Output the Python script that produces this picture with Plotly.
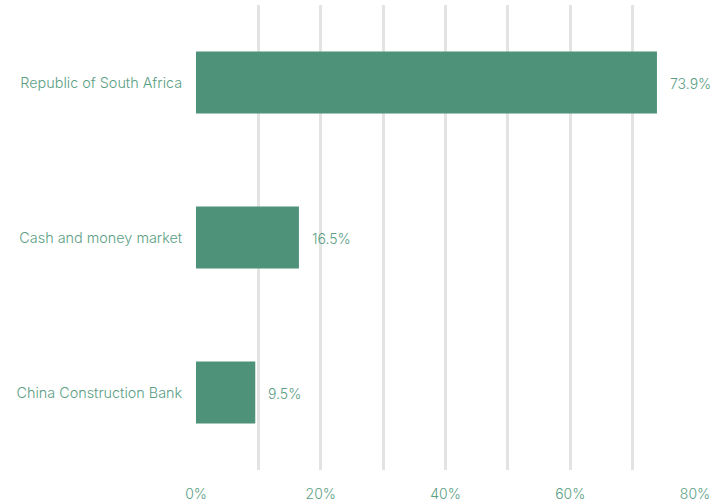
import plotly.graph_objects as go

categories = ["Republic of South Africa", "Cash and money market", "China Construction Bank"]
values = [73.9, 16.5, 9.5]
labels = ["73.9%", "16.5%", "9.5%"]
tick_vals = [0, 10, 20, 30, 40, 50, 60, 70, 80]
tick_text = ["0%", "", "20%", "", "40%", "", "60%", "", "80%"]

GREEN = "#4d9279"
TEXT = "#5a9e84"
FONT = "Inter, Lato, sans-serif"

fig = go.Figure()
fig.add_trace(go.Bar(
    x=values, y=categories, orientation="h",
    marker=dict(color=GREEN, line=dict(width=0)),
    width=0.4, hoverinfo="skip",
))
for c, v, t in zip(categories, values, labels):
    fig.add_annotation(x=v, y=c, text=t, showarrow=False, xanchor="left",
                       xshift=11, yshift=-1,
                       font=dict(family=FONT, size=14, color=TEXT, weight=300))

fig.update_layout(
    width=713, height=504,
    margin=dict(l=196, r=18, t=5, b=34, autoexpand=False),
    paper_bgcolor="white", plot_bgcolor="white",
    showlegend=False,
    font=dict(family=FONT, size=14, color=TEXT, weight=300),
    xaxis=dict(range=[0, 80], tickvals=tick_vals, ticktext=tick_text,
               showgrid=True, gridcolor="#e3e3e3", gridwidth=2.5,
               zeroline=False, showline=False, automargin=False,
               ticks="outside", ticklen=11, tickcolor="rgba(0,0,0,0)",
               tickfont=dict(family=FONT, size=14, color=TEXT, weight=300)),
    yaxis=dict(categoryorder="array", categoryarray=categories[::-1],
               showgrid=False, zeroline=False, showline=False, automargin=False,
               ticks="outside", ticklen=10, tickcolor="rgba(0,0,0,0)",
               tickfont=dict(family=FONT, size=14.4, color=TEXT, weight=300)),
)
fig.write_html("out.html", config={"displayModeBar": False},
               post_script="document.body.style.margin='0';")
